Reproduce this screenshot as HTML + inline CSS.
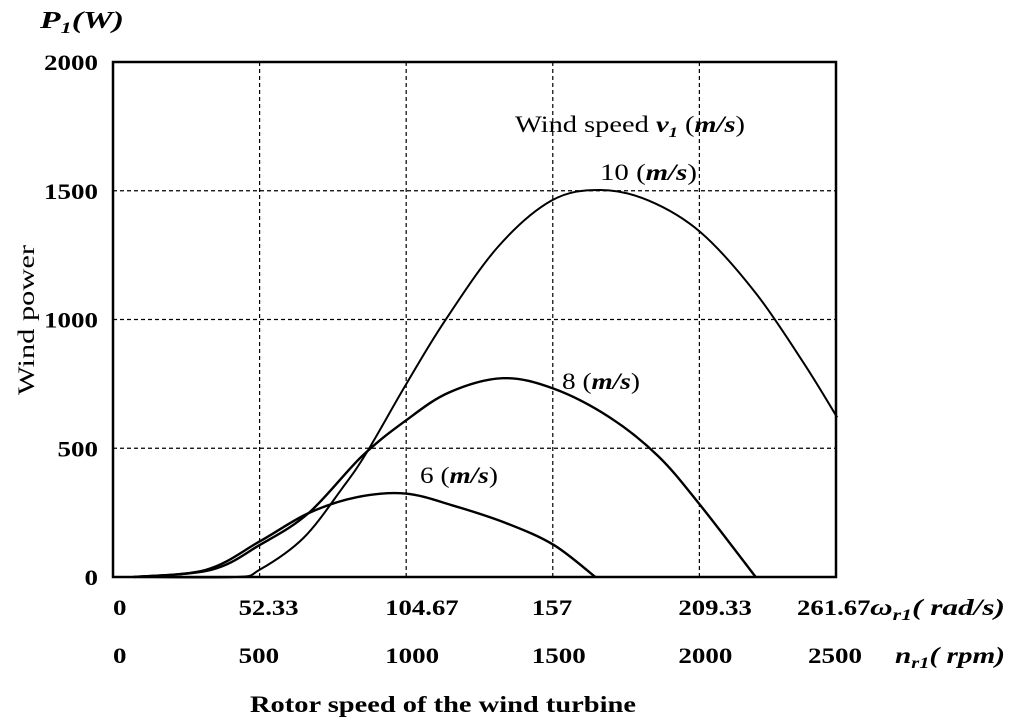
<!DOCTYPE html>
<html><head><meta charset="utf-8"><style>
html,body{margin:0;padding:0;background:#fff;}
svg{display:block;font-family:"Liberation Serif",serif;}
</style></head><body>
<svg id="chart" width="1024" height="728" viewBox="0 0 1024 728">
<g id="grid"></g>
<g id="curves"></g>
<rect x="113" y="62" width="723" height="515" fill="none" stroke="#000" stroke-width="2.5"/>
<g id="labels" font-weight="bold" font-size="22"></g>
<text x="40" y="28" font-size="24" font-weight="bold" font-style="italic" textLength="84" lengthAdjust="spacingAndGlyphs">P<tspan font-size="16" dy="5">1</tspan><tspan dy="-5">(W)</tspan></text>
<text transform="translate(34,320) rotate(-90)" text-anchor="middle" font-size="23" textLength="150" lengthAdjust="spacingAndGlyphs">Wind power</text>
<text x="250" y="712" font-size="23" font-weight="bold" textLength="386" lengthAdjust="spacingAndGlyphs">Rotor speed of the wind turbine</text>
<text x="870" y="615" font-size="23" font-weight="bold" font-style="italic" textLength="135" lengthAdjust="spacingAndGlyphs">ω<tspan font-size="16" dy="5">r1</tspan><tspan dy="-5">( rad/s)</tspan></text>
<text x="895" y="663" font-size="23" font-weight="bold" font-style="italic" textLength="110" lengthAdjust="spacingAndGlyphs">n<tspan font-size="16" dy="5">r1</tspan><tspan dy="-5">( rpm)</tspan></text>
<text x="515" y="132" font-size="23" textLength="230" lengthAdjust="spacingAndGlyphs">Wind speed <tspan font-weight="bold" font-style="italic">v<tspan font-size="15" dy="5">1</tspan></tspan><tspan dy="-5"> (</tspan><tspan font-weight="bold" font-style="italic">m/s</tspan>)</text>
<text x="600" y="180" font-size="23" textLength="97" lengthAdjust="spacingAndGlyphs">10 (<tspan font-weight="bold" font-style="italic">m/s</tspan>)</text>
<text x="562" y="389" font-size="23" textLength="78" lengthAdjust="spacingAndGlyphs">8 (<tspan font-weight="bold" font-style="italic">m/s</tspan>)</text>
<text x="420" y="483" font-size="23" textLength="78" lengthAdjust="spacingAndGlyphs">6 (<tspan font-weight="bold" font-style="italic">m/s</tspan>)</text>
</svg>
<script>
const yTicks=[0,500,1000,1500,2000];
const xTicksRpm=[0,500,1000,1500,2000,2500];
const xTickOmega=["0","52.33","104.67","157","209.33","261.67"];
const xGrid=[500,1000,1500,2000];
const rpm10=[70,418,500,650,782,865,998,1131,1313,1496,1661,1827,2005,2192,2358,2470];
const pow10=[0,0,28,152,345,483,745,993,1282,1462,1503,1462,1338,1103,827,620];
const rpm8=[70,335,500,667,849,998,1147,1330,1504,1694,1860,2005,2192];
const pow8=[0,28,124,248,469,607,717,772,731,620,469,276,0];
const rpm6=[70,318,500,667,832,998,1164,1346,1504,1645];
const pow6=[0,28,138,248,310,324,276,207,124,0];
const X0=113,X1=836,Y0=577,Y1=62,XMAX=2466;
const x=v=>X0+v/XMAX*(X1-X0);
const y=v=>Y0-v/2000*(Y0-Y1);
const NS="http://www.w3.org/2000/svg";
const grid=document.getElementById('grid'),curves=document.getElementById('curves'),labels=document.getElementById('labels');
function mk(t,a,p){const e=document.createElementNS(NS,t);for(const k in a)e.setAttribute(k,a[k]);p.appendChild(e);return e;}
function tw(s){let w=0;for(const c of String(s))w+=(c=='.'?6:13.5);return w;}
yTicks.forEach(v=>{
 if(v>0&&v<2000){const l=mk('line',{x1:X0,x2:X1,y1:y(v),y2:y(v),stroke:'#000','stroke-width':1.2,'stroke-dasharray':'4,3'},grid);
 
 }
 const t=mk('text',{x:98-tw(v),y:y(v)+8,textLength:tw(v),lengthAdjust:'spacingAndGlyphs'},labels);t.textContent=v;
 
 
});
xGrid.forEach(v=>{const l=mk('line',{x1:x(v),x2:x(v),y1:Y1,y2:Y0,stroke:'#000','stroke-width':1.2,'stroke-dasharray':'4,3'},grid);
 
 });
xTicksRpm.forEach((v,i)=>{
 const px=i==0?113:(i==5?797+21:x(v));
 const a=mk('text',{x:i==0?113:px-21,y:615,textLength:tw(xTickOmega[i]),lengthAdjust:'spacingAndGlyphs'},labels);a.textContent=xTickOmega[i];
 
 
 const bx=i==5?808:(i==0?113:px-21);
 const b=mk('text',{x:bx,y:663,textLength:tw(v),lengthAdjust:'spacingAndGlyphs'},labels);b.textContent=v;
 
 
});
function curve(xs,ys,name,w){
 const pts=xs.map((v,i)=>[x(v),y(ys[i])]);
 let d='M'+pts[0][0]+','+pts[0][1];
 for(let i=0;i<pts.length-1;i++){const p0=pts[Math.max(i-1,0)],p1=pts[i],p2=pts[i+1],p3=pts[Math.min(i+2,pts.length-1)];
  d+=' C'+(p1[0]+(p2[0]-p0[0])/6)+','+(p1[1]+(p2[1]-p0[1])/6)+' '+(p2[0]-(p3[0]-p1[0])/6)+','+(p2[1]-(p3[1]-p1[1])/6)+' '+p2[0]+','+p2[1];}
 const p=mk('path',{d:d,fill:'none',stroke:'#000','stroke-width':w},curves);
 
 
}
curve(rpm10,pow10,'curve-10ms',2);
curve(rpm8,pow8,'curve-8ms',2.4);
curve(rpm6,pow6,'curve-6ms',2.4);
</script>
</body></html>
